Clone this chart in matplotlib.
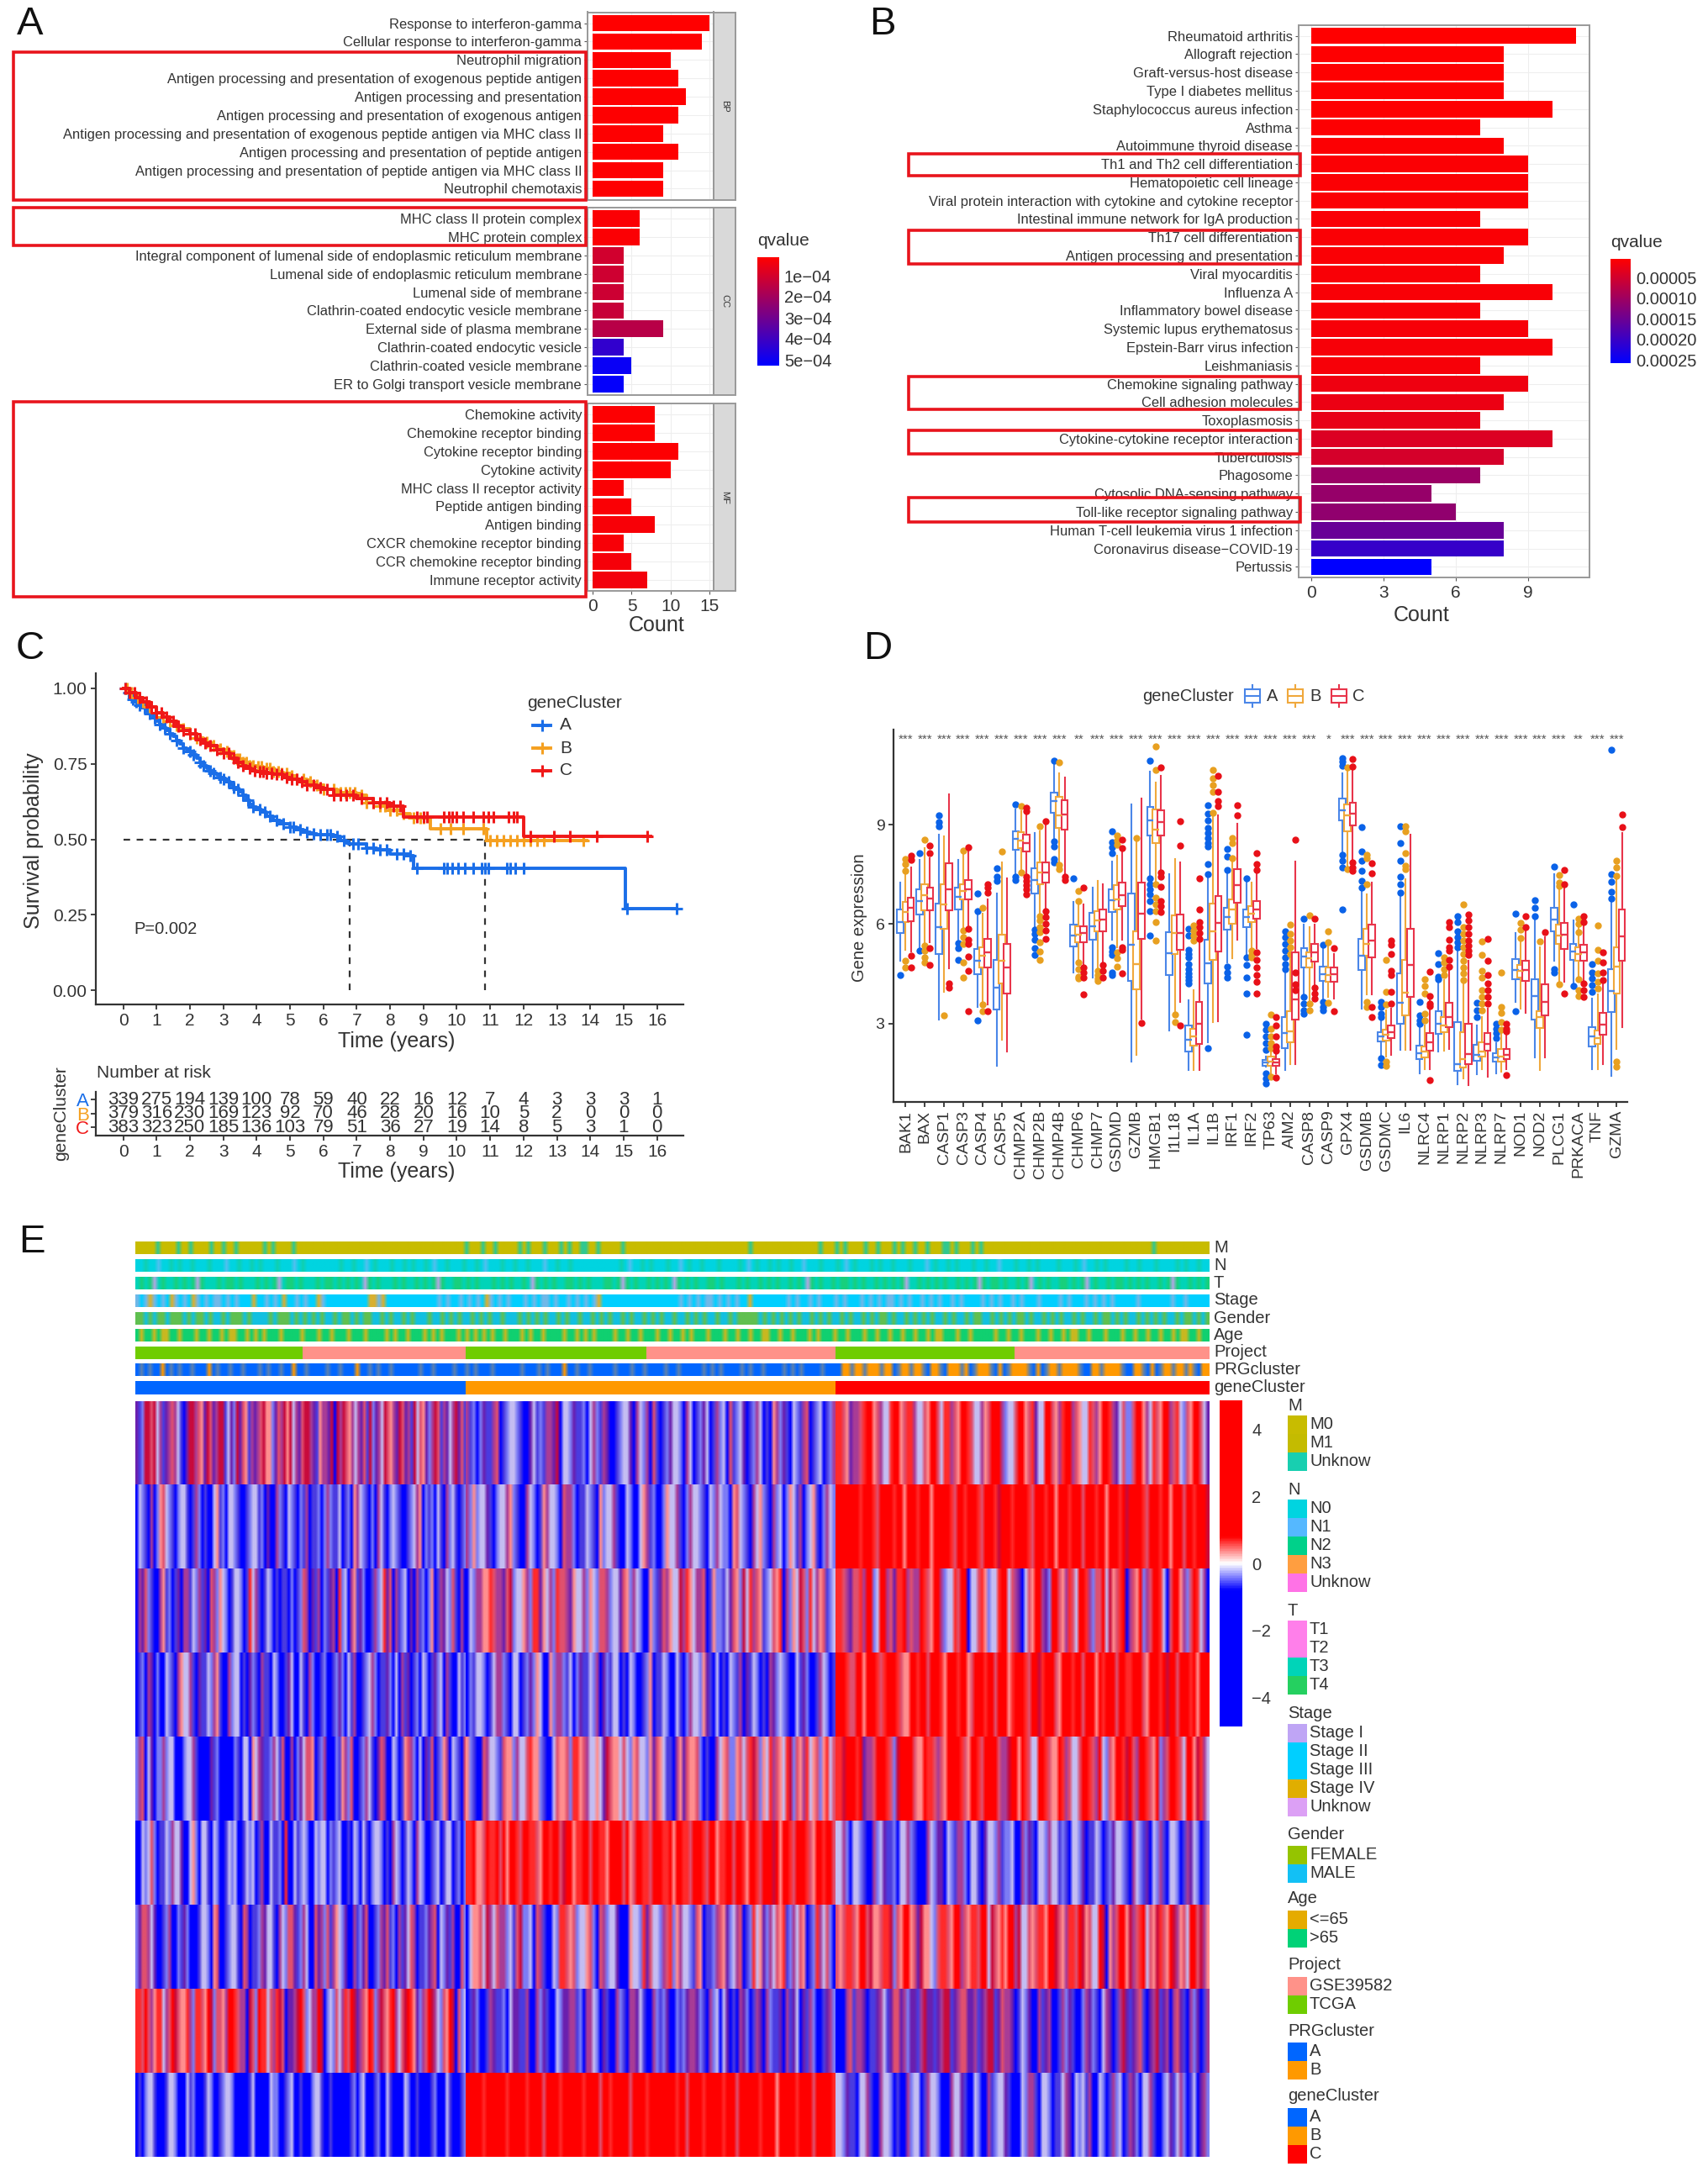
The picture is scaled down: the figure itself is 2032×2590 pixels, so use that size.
import matplotlib
matplotlib.use("Agg")
import matplotlib.pyplot as plt
import numpy as np
from matplotlib.colors import LinearSegmentedColormap, ListedColormap, Normalize
from matplotlib.cm import ScalarMappable
from matplotlib.patches import Rectangle

plt.rcParams['font.family'] = ['Liberation Sans', 'DejaVu Sans']

W, H = 2032, 2590
fig = plt.figure(figsize=(W / 100, H / 100), dpi=100, facecolor='white')

TXT = '#333333'
GREY = '#4d4d4d'
BOXRED = '#e8141c'

# ---- panel A data
a_terms = [
    ["Response to interferon-gamma", "Cellular response to interferon-gamma", "Neutrophil migration",
     "Antigen processing and presentation of exogenous peptide antigen", "Antigen processing and presentation",
     "Antigen processing and presentation of exogenous antigen",
     "Antigen processing and presentation of exogenous peptide antigen via MHC class II",
     "Antigen processing and presentation of peptide antigen",
     "Antigen processing and presentation of peptide antigen via MHC class II", "Neutrophil chemotaxis"],
    ["MHC class II protein complex", "MHC protein complex",
     "Integral component of lumenal side of endoplasmic reticulum membrane",
     "Lumenal side of endoplasmic reticulum membrane", "Lumenal side of membrane",
     "Clathrin-coated endocytic vesicle membrane", "External side of plasma membrane",
     "Clathrin-coated endocytic vesicle", "Clathrin-coated vesicle membrane", "ER to Golgi transport vesicle membrane"],
    ["Chemokine activity", "Chemokine receptor binding", "Cytokine receptor binding", "Cytokine activity",
     "MHC class II receptor activity", "Peptide antigen binding", "Antigen binding",
     "CXCR chemokine receptor binding", "CCR chemokine receptor binding", "Immune receptor activity"],
]
a_counts = [[15, 14, 10, 11, 12, 11, 9, 11, 9, 9],
            [6, 6, 4, 4, 4, 4, 9, 4, 5, 4],
            [8, 8, 11, 10, 4, 5, 8, 4, 5, 7]]
a_q = [[0.02e-4, 0.02e-4, 0.03e-4, 0.03e-4, 0.03e-4, 0.03e-4, 0.03e-4, 0.03e-4, 0.03e-4, 0.04e-4],
       [0.1e-4, 0.1e-4, 0.95e-4, 1.0e-4, 1.05e-4, 1.15e-4, 1.45e-4, 4.2e-4, 5.0e-4, 5.1e-4],
       [0.05e-4, 0.05e-4, 0.05e-4, 0.06e-4, 0.1e-4, 0.12e-4, 0.15e-4, 0.15e-4, 0.2e-4, 0.25e-4]]
a_facets = ["BP", "CC", "MF"]

# ---- panel B data
b_terms = ["Rheumatoid arthritis", "Allograft rejection", "Graft-versus-host disease", "Type I diabetes mellitus",
           "Staphylococcus aureus infection", "Asthma", "Autoimmune thyroid disease", "Th1 and Th2 cell differentiation",
           "Hematopoietic cell lineage", "Viral protein interaction with cytokine and cytokine receptor",
           "Intestinal immune network for IgA production", "Th17 cell differentiation",
           "Antigen processing and presentation", "Viral myocarditis", "Influenza A", "Inflammatory bowel disease",
           "Systemic lupus erythematosus", "Epstein-Barr virus infection", "Leishmaniasis",
           "Chemokine signaling pathway", "Cell adhesion molecules", "Toxoplasmosis",
           "Cytokine-cytokine receptor interaction", "Tuberculosis", "Phagosome", "Cytosolic DNA-sensing pathway",
           "Toll-like receptor signaling pathway", "Human T-cell leukemia virus 1 infection",
           "Coronavirus disease\u2212COVID-19", "Pertussis"]
b_counts = [11, 8, 8, 8, 10, 7, 8, 9, 9, 9, 7, 9, 8, 7, 10, 7, 9, 10, 7, 9, 8, 7, 10, 8, 7, 5, 6, 8, 8, 5]
b_q = [0.01e-5, 0.1e-5, 0.1e-5, 0.1e-5, 0.1e-5, 0.2e-5, 0.3e-5, 0.4e-5, 0.4e-5, 0.4e-5, 0.5e-5, 0.5e-5, 0.5e-5,
       0.6e-5, 0.6e-5, 0.7e-5, 0.8e-5, 0.8e-5, 0.8e-5, 1.6e-5, 1.9e-5, 2.3e-5, 3.5e-5, 4.2e-5, 10e-5, 10.5e-5,
       11e-5, 15e-5, 20e-5, 25.4e-5]

# ---- panel C data
time_a = [0, .1, .2, .3, .4, .5, .6, .7, .8, .9, 1, 1.1, 1.2, 1.3, 1.4, 1.5, 1.6, 1.7, 1.8, 1.9, 2, 2.1, 2.2, 2.3, 2.4, 2.5, 2.6, 2.7, 2.8, 2.9, 3,
          3.1, 3.2, 3.3, 3.4, 3.5, 3.6, 3.7, 3.8, 3.9, 4, 4.15, 4.3, 4.5, 4.7, 5, 5.2, 5.4, 5.6, 5.8, 6.3, 6.5, 6.7, 6.8, 7.3, 7.6, 8, 8.6, 8.7, 15.05, 16.6]
surv_a = [1, .985, .972, .963, .955, .945, .935, .925, .915, .903, .89, .88, .87, .86, .85, .84, .828, .815, .803, .797, .79, .78, .768, .755, .745, .735, .728, .72, .712, .706, .70,
          .69, .68, .672, .665, .657, .645, .63, .617, .607, .60, .59, .578, .562, .553, .54, .532, .524, .517, .515, .51, .497, .487, .485, .47, .465, .45, .445, .405, .27, .27]
time_b = [0, .2, .4, .6, .8, 1, 1.2, 1.4, 1.6, 1.8, 2, 2.2, 2.4, 2.6, 2.8, 3, 3.2, 3.4, 3.6, 3.8, 4, 4.2, 4.5, 4.7, 5, 5.2, 5.5, 5.7, 6, 6.4, 7, 7.3, 7.7, 8, 8.4, 8.6, 9.2, 10.9, 13.9]
surv_b = [1, .985, .97, .955, .94, .92, .905, .89, .878, .865, .85, .835, .822, .81, .8, .79, .778, .765, .755, .745, .74, .735, .725, .72, .71, .70, .69, .68, .665, .655, .645, .62, .61, .595, .585, .57, .535, .495, .495]
time_c = [0, .2, .4, .6, .8, 1, 1.2, 1.4, 1.6, 1.8, 2, 2.2, 2.4, 2.6, 2.8, 3, 3.2, 3.4, 3.6, 3.7, 3.85, 4, 4.3, 4.5, 4.8, 5, 5.3, 5.5, 5.8, 6, 6.3, 7, 7.5, 8, 8.4, 12, 15.8]
surv_c = [1, .985, .97, .955, .94, .92, .905, .89, .875, .86, .85, .83, .82, .81, .797, .785, .77, .755, .745, .735, .728, .725, .72, .715, .705, .70, .69, .68, .672, .665, .645, .635, .62, .61, .575, .51, .51]
cens_a = [.05, .15, .3, .4, .5, .65, .8, .95, 1.1, 1.25, 1.4, 1.6, 1.8, 2, 2.1, 2.3, 2.4, 2.6, 2.7, 2.9, 3, 3.15, 3.3, 3.45, 3.6, 3.75, 3.9, 4.1, 4.25, 4.4, 4.6, 4.8, 5, 5.1, 5.3, 5.5, 5.7, 5.9, 6.1, 6.2, 6.4, 6.6, 6.9, 7.05, 7.3, 7.5, 7.7, 7.9, 8.2, 8.4, 8.6, 8.8, 9.6, 9.7, 9.85, 10.05, 10.25, 10.5, 10.75, 10.85, 10.95, 11.5, 11.6, 11.75, 12, 15.1, 16.6]
cens_b = [.1, .25, .45, .6, .8, 1, 1.2, 1.4, 1.6, 1.8, 2, 2.2, 2.5, 2.7, 2.9, 3.1, 3.3, 3.4, 3.5, 3.6, 3.7, 3.8, 3.9, 4.05, 4.15, 4.3, 4.4, 4.5, 4.65, 4.75, 4.9, 5.05, 5.2, 5.4, 5.6, 5.8, 6, 6.3, 6.5, 6.65, 6.8, 6.95, 7.15, 7.3, 7.5, 7.7, 7.85, 8, 8.2, 8.4, 8.7, 8.9, 9, 9.5, 9.8, 10.2, 10.8, 11, 11.2, 11.4, 11.6, 11.8, 12, 12.2, 12.4, 12.6, 13.8]
cens_c = [.05, .2, .35, .5, .7, .85, 1, 1.15, 1.3, 1.5, 1.65, 1.8, 2, 2.15, 2.3, 2.45, 2.6, 2.8, 3, 3.15, 3.3, 3.45, 3.6, 3.8, 3.95, 4.1, 4.2, 4.3, 4.45, 4.6, 4.75, 4.9, 5.05, 5.2, 5.35, 5.5, 5.7, 5.9, 6.1, 6.3, 6.5, 6.7, 6.9, 7.15, 7.5, 7.7, 7.9, 8.1, 8.3, 8.8, 9, 9.1, 9.6, 9.75, 9.85, 10, 10.2, 10.5, 10.8, 10.95, 11.1, 11.55, 11.7, 11.8, 12.2, 12.9, 13.4, 14.2, 15.7]
risk_times = list(range(17))
risk_a = [339, 275, 194, 139, 100, 78, 59, 40, 22, 16, 12, 7, 4, 3, 3, 3, 1]
risk_b = [379, 316, 230, 169, 123, 92, 70, 46, 28, 20, 16, 10, 5, 2, 0, 0, 0]
risk_c = [383, 323, 250, 185, 136, 103, 79, 51, 36, 27, 19, 14, 8, 5, 3, 1, 0]

# ---- panel D data
genes = ["BAK1", "BAX", "CASP1", "CASP3", "CASP4", "CASP5", "CHMP2A", "CHMP2B", "CHMP4B", "CHMP6", "CHMP7", "GSDMD",
         "GZMB", "HMGB1", "I1L18", "IL1A", "IL1B", "IRF1", "IRF2", "TP63", "AIM2", "CASP8", "CASP9", "GPX4", "GSDMB",
         "GSDMC", "IL6", "NLRC4", "NLRP1", "NLRP2", "NLRP3", "NLRP7", "NOD1", "NOD2", "PLCG1", "PRKACA", "TNF", "GZMA"]
stars = ["***"] * 9 + ["**"] + ["***"] * 12 + ["*"] + ["***"] * 12 + ["**"] + ["***"] * 2
# whisker low, q1, median, q3, whisker high
box_a = [(4.89, 5.72, 6.07, 6.43, 7.25), (5.27, 6.28, 6.7, 7.05, 7.93), (3.11, 5.1, 5.9, 6.62, 8.69), (5.48, 6.43, 6.83, 7.09, 7.93),
         (3.49, 4.48, 4.89, 5.24, 6.37), (1.71, 3.43, 4.08, 4.93, 6.92), (7.51, 8.25, 8.57, 8.8, 9.45), (5.9, 6.93, 7.32, 7.68, 8.74),
         (8.44, 9.37, 9.71, 9.96, 10.85), (4.55, 5.33, 5.65, 5.99, 6.66), (4.38, 5.52, 5.94, 6.34, 7.1), (5.52, 6.37, 6.71, 7.04, 7.89),
         (1.84, 4.28, 5.38, 6.92, 9.62), (7.46, 8.68, 9.13, 9.54, 10.6), (2.79, 4.45, 5.12, 5.75, 7.51), (1.59, 2.16, 2.52, 2.94, 3.7),
         (2.43, 4.21, 4.82, 5.52, 7.45), (4.84, 5.83, 6.22, 6.5, 7.51), (5.1, 5.9, 6.2, 6.45, 7.34), (1.7, 1.72, 1.82, 1.91, 2.0),
         (1.59, 2.25, 2.7, 3.18, 4.6), (3.91, 4.7, 5.01, 5.27, 5.99), (3.7, 4.29, 4.48, 4.72, 5.31), (8.17, 9.12, 9.44, 9.79, 10.55),
         (3.45, 4.62, 5.04, 5.56, 7.0), (2.05, 2.45, 2.6, 2.73, 3.1), (2.2, 2.98, 3.62, 4.5, 6.83), (1.5, 1.93, 2.11, 2.33, 2.95),
         (2.14, 2.69, 2.98, 3.36, 4.25), (1.16, 1.57, 1.76, 3.04, 5.2), (1.46, 1.88, 2.05, 2.35, 2.95), (1.5, 1.84, 1.97, 2.1, 2.4),
         (3.66, 4.34, 4.62, 4.95, 5.73), (1.97, 3.11, 3.83, 4.34, 6.11), (4.89, 5.78, 6.14, 6.5, 7.51), (4.21, 4.93, 5.17, 5.41, 6.11),
         (1.63, 2.31, 2.6, 2.9, 3.75), (1.42, 3.35, 3.98, 4.65, 6.66)]
box_b = [(5.22, 6.07, 6.37, 6.68, 7.76), (5.4, 6.41, 6.87, 7.2, 8.3), (3.95, 5.86, 6.58, 7.2, 8.65), (5.9, 6.75, 7.0, 7.2, 8.1),
         (3.66, 4.68, 5.05, 5.3, 6.32), (2.52, 4.2, 4.89, 5.69, 7.85), (7.64, 8.29, 8.52, 8.77, 9.4), (6.32, 7.21, 7.55, 7.85, 8.8),
         (7.85, 8.9, 9.29, 9.85, 10.55), (4.89, 5.46, 5.69, 5.94, 6.67), (4.63, 5.77, 6.11, 6.4, 7.3), (5.31, 6.45, 6.75, 7.17, 8.06),
         (2.05, 4.04, 4.8, 5.77, 8.52), (7.26, 8.44, 8.86, 9.45, 10.26), (3.36, 5.1, 5.73, 6.26, 7.97), (1.59, 2.33, 2.6, 2.85, 4.0),
         (3.03, 4.93, 5.78, 6.62, 9.3), (4.97, 6.0, 6.45, 6.75, 7.89), (5.27, 6.07, 6.32, 6.55, 7.25), (1.45, 1.72, 1.85, 2.0, 2.3),
         (1.76, 2.43, 2.77, 3.36, 5.0), (3.7, 4.68, 4.97, 5.14, 5.9), (3.79, 4.27, 4.46, 4.68, 5.4), (7.7, 8.8, 9.28, 9.6, 10.64),
         (3.87, 5.05, 5.39, 5.86, 6.9), (2.0, 2.48, 2.67, 2.8, 3.4), (2.2, 3.24, 3.94, 4.93, 7.35), (1.63, 1.97, 2.14, 2.3, 2.94),
         (2.18, 2.73, 2.94, 3.2, 4.3), (1.33, 1.67, 1.93, 2.73, 4.2), (1.63, 2.01, 2.14, 2.43, 3.2), (1.54, 1.84, 2.01, 2.22, 2.72),
         (3.45, 4.38, 4.6, 4.77, 5.6), (1.59, 2.87, 3.2, 3.36, 5.3), (4.21, 5.39, 5.65, 5.99, 7.1), (4.38, 4.89, 5.1, 5.3, 5.98),
         (1.63, 2.39, 2.56, 2.78, 3.88), (2.22, 3.91, 4.72, 5.3, 7.35)]
box_c = [(5.18, 6.09, 6.48, 6.8, 7.7), (5.44, 6.41, 6.76, 7.09, 8.0), (4.67, 6.41, 7.04, 7.83, 9.92), (5.95, 6.75, 7.04, 7.34, 8.18),
         (3.58, 4.7, 5.14, 5.55, 6.75), (2.14, 3.91, 4.7, 5.39, 7.38), (7.51, 8.2, 8.44, 8.69, 9.3), (6.45, 7.25, 7.55, 7.85, 9.0),
         (7.5, 8.86, 9.31, 9.75, 10.43), (4.72, 5.44, 5.72, 5.94, 6.58), (4.84, 5.77, 6.14, 6.45, 7.2), (5.52, 6.54, 6.87, 7.24, 8.19),
         (3.15, 5.56, 6.32, 7.25, 9.8), (7.64, 8.68, 9.09, 9.44, 10.47), (3.66, 5.22, 5.73, 6.28, 7.85), (1.59, 2.39, 2.98, 3.66, 5.5),
         (3.07, 5.18, 6.03, 6.85, 9.29), (5.52, 6.65, 7.17, 7.66, 9.03), (5.27, 6.17, 6.43, 6.7, 7.5), (1.5, 1.72, 1.82, 1.93, 2.1),
         (1.76, 3.11, 3.72, 5.14, 7.89), (4.12, 4.87, 5.14, 5.39, 5.99), (3.74, 4.27, 4.48, 4.68, 5.1), (7.93, 8.99, 9.33, 9.66, 10.7),
         (3.87, 5.0, 5.5, 5.99, 7.25), (2.05, 2.56, 2.73, 2.94, 3.45), (2.2, 3.8, 4.76, 5.86, 8.7), (1.63, 2.18, 2.43, 2.71, 3.7),
         (2.22, 2.9, 3.19, 3.62, 4.68), (1.15, 1.77, 2.08, 3.0, 4.9), (1.38, 2.18, 2.39, 2.71, 3.45), (1.63, 1.93, 2.05, 2.22, 2.68),
         (3.32, 4.28, 4.61, 4.9, 5.82), (1.97, 3.24, 3.66, 4.19, 5.6), (4.25, 5.24, 5.67, 6.03, 7.13), (4.25, 4.9, 5.14, 5.38, 6.0),
         (1.76, 2.65, 2.96, 3.32, 4.25), (2.9, 4.89, 5.62, 6.45, 8.76)]
out_a = [[4.46], [8.15, 5.2], [9.29, 9.07, 8.95], [5.43, 5.27, 4.93], [6.92, 6.4, 3.1], [7.68, 7.42, 7.3], [9.6, 7.42, 7.34],
         [5.82, 5.7, 5.52, 5.27, 5.06], [10.93, 8.5, 8.35, 7.97, 7.85], [7.38], [], [8.8, 8.48, 8.31, 8.14, 5.31, 5.18, 5.06, 4.55, 4.46],
         [], [10.94, 7.38, 7.2, 7.05, 6.9, 6.7, 6.4, 5.65], [], [5.86, 5.65, 5.22, 5.1, 5.0, 4.8, 4.63, 4.5, 4.4, 4.3, 4.2],
         [9.58, 9.33, 9.12, 8.9, 8.75, 8.6, 8.45, 8.35, 7.8, 7.5, 2.25], [8.27, 8.03, 7.64, 4.72, 4.55, 4.38], [7.39, 5.0, 4.76, 4.38, 3.9, 2.66],
         [3.0, 2.8, 2.6, 2.4, 2.2, 1.5, 1.35, 1.2], [5.78, 5.6, 5.4, 5.2, 5.0, 4.8, 4.65], [6.16, 3.8, 3.6, 3.4, 3.3], [5.38, 3.65, 3.5, 3.4],
         [11.02, 10.9, 10.78, 8.1, 7.9, 7.7, 6.45], [8.93, 8.19, 7.9, 7.61, 7.3, 7.1], [3.66, 3.5, 3.3, 3.2, 1.95, 1.75],
         [8.95, 8.44, 7.9, 7.43, 7.2, 6.95], [3.66, 3.24, 3.1, 2.98], [5.11, 4.8, 4.42, 4.33], [6.24, 6.05, 5.78, 5.6, 5.45, 5.3],
         [3.62, 3.4, 3.18], [3.0, 2.85, 2.7, 2.57], [6.32, 3.36], [6.73, 6.48, 6.24], [7.74, 4.63, 4.55], [6.6, 4.14],
         [4.8, 4.55, 4.35, 4.15, 3.95], [11.25, 7.5, 7.27, 6.98, 6.76]]
out_b = [[7.97, 7.8, 7.6, 4.9, 4.7], [8.55, 5.35, 5.2, 5.0, 4.85], [3.24], [8.22, 5.8, 5.6, 5.4, 4.85, 4.38], [6.5, 3.58, 3.36], [8.19],
         [9.56, 7.55], [8.95, 6.25, 6.1, 5.9, 5.75, 5.44, 5.18, 4.93], [10.87, 7.78, 7.65], [7.0, 6.7, 4.85, 4.65, 4.4, 4.35],
         [4.6, 4.45, 4.35, 4.29], [8.67, 8.52, 8.4, 5.14, 4.97, 4.72], [8.6], [11.36, 10.64, 7.2, 6.8, 6.6, 6.4, 6.05, 5.5], [3.28, 3.03],
         [5.95, 5.8, 5.65, 5.5], [10.64, 10.4, 10.2, 10.0, 9.37], [8.6, 8.45, 8.0], [5.2, 5.06, 5.0], [3.28, 2.85, 2.6, 2.4, 2.25, 1.4],
         [5.98, 5.7, 5.5, 5.3, 5.1], [6.26, 3.6, 3.4], [5.78, 5.46, 3.63], [10.72, 7.66], [8.1, 8.0, 7.2, 3.66, 3.5],
         [4.93, 3.95, 3.57, 1.85, 1.72], [8.95, 8.8, 8.14, 7.75, 7.65], [4.34, 4.12, 3.91, 3.3, 3.1], [5.0, 4.85, 4.65, 4.45],
         [6.58, 5.9, 5.7, 5.5, 5.3, 5.1, 4.9, 4.7, 4.5, 4.3], [5.48, 5.06, 4.6, 4.38, 4.0, 3.8, 3.6, 3.4], [4.53, 3.49, 3.32, 3.03, 2.8],
         [6.03, 5.83, 5.58], [5.48], [7.47, 7.25, 7.15, 4.17], [6.15, 6.0, 5.75, 4.34, 4.0, 3.83], [5.97, 5.22, 4.89, 4.5, 4.25, 4.05],
         [7.92, 7.7, 7.45, 1.85, 1.7]]
out_c = [[8.06, 7.93, 5.04, 4.68], [8.36, 8.14, 5.27, 4.76], [4.21, 4.08], [8.31, 5.85, 5.52, 5.4, 5.01, 4.59, 3.36], [7.2, 7.1, 6.95, 3.36], [],
         [9.5, 9.41, 7.42, 7.3, 7.17, 7.04, 6.9], [9.1, 6.4, 6.2, 6.0, 5.8, 5.56], [7.42, 7.34], [7.09, 4.68, 4.55, 4.38, 3.87], [4.76, 4.59, 4.38],
         [8.54, 8.29, 5.31, 5.22, 4.5], [3.02], [10.72, 7.55, 7.43, 7.13, 6.7, 6.54, 6.37], [9.1, 8.37, 2.94], [7.38, 6.43, 6.07, 5.9, 5.73, 5.56],
         [10.47, 10.0, 9.71, 9.56], [9.58, 9.27], [8.14, 7.8, 7.64, 5.14, 4.93, 4.7, 4.45, 4.25, 3.9], [3.2, 2.94, 2.6, 2.3, 2.18, 1.37],
         [8.54, 4.55, 4.17, 4.0], [6.17, 4.08, 3.9, 3.75], [5.27, 3.36], [10.98, 10.76, 7.85, 7.7, 7.6], [7.83, 7.53, 3.49, 3.2],
         [5.5, 5.38, 5.1, 4.59, 4.46, 3.95, 3.6], [], [4.57, 3.83, 3.6, 3.53, 1.3], [6.07, 5.9, 5.52, 5.3, 5.2, 4.93, 4.72],
         [6.28, 6.1, 5.9, 5.7, 5.5, 5.35, 5.2, 5.06], [5.56, 4.89, 4.45, 4.2, 4.0, 3.8, 3.6], [3.0, 2.85, 2.75, 1.43], [6.24, 5.92], [5.75],
         [7.64, 7.2, 3.91], [6.24, 6.07, 4.2, 4.0, 3.79], [5.14, 4.83, 4.55, 4.3], [9.3, 8.92]]

# ---- panel E data: one string of stripes per heatmap row and cluster
heat_colors = {'b': '#0000ff', 'i': '#4a3be0', 'l': '#7c7cf5', 'w': '#c4bdf2', 'p': '#6a1fae', 'm': '#a83c96',
               'd': '#c80a3c', 's': '#e0506e', 'o': '#ff8e8e', 'r': '#ff2a2a', 'R': '#ff0000'}
heat_a = ["pilddsdwmipmsmwibpddmsopdspmddiwpldpsoimpmsdoolpsmdodwmpsddmpiommpdbdmdsomwmpsidlpmwdsompdspmidwsoplmdsimpwmdpsi",
          "bwlibmbloswliblwwibimlbibbwoilbwwlibbilwwilbpbbmlibwliblimbiilblmliiwbilbomwliblbmwiblwlibbilwmoblilbwibmlwibil",
          "bmpslibbmoilbipbmmiwlmipbsmlowlbiwwlbirwmibiwlbibiiblbilsmbpimblipmbrlwbmoiplbbimlwrpsbmilwbpbmilblobimpwlsibmb",
          "bilbmpblbbwlibmowwmibpiiwlmoibbmlwwbibplibmiibwlbbipwbbwibmlbbilbbilplbwimbbilwmlbiiplbwbmipbilbwlbiplwbmibbwil",
          "lmsbwpbllmlwwbbblwwmibbbbpilbbbbblibwwbowmpiilmwisbbmblpwssobilmbbbliomlsbbilmwibpsmbbwlbiosmlbwbpisbilombwlibs",
          "bbwlwslbiiwlmwwpbbwolbwwibwlbbiwlwbbiwlwbimbbwiilbrbbwilwlbbwlwwblilwbbibwlbwiblwwlbibmwlbiwlbmwlbbilwbiwwbilbl",
          "lpssmwpbbilmbbliplbbbiwwlbosbbilwwibsmbiilmpwwibmwlsspilmwbbspmlsimowlpbbmilpsbbilmpsilbmipwsmbiilpmsbwlpimbbsl",
          "rrsRsmorrwmsRdsoormlrrsoRdlssomRRrsmmbdslRrrwsmrdsbppmdRslwmmRdblwlswmrsRdpmsoRrlmdsorRmwsdRroplmsRdmwlsoRdbslw",
          "biblwwibbbiwwlbbbwilbbbiwlbbilwwlbbbbbiwbbbbbwllbbilwbbibbblwwibbibbbbbbilblwbbbilbbwibbbbwlbbibbbbilbbbwibbbil"]
heat_b = ["milblpiimsbilwwlibbpwilimmpdbwwlpiilbwmlimpbbilwwpbmwlmbsibilpwwlbmwbilpwbimlwbsilwpbilmwbibomlpibwlimsbilwbilm",
          "mlolwwpiblwwmolibbmwlbiomwwlbsmmlbiiwlibolwwmibbwlbbwomilbblowwmiblmwwlibwlmwllboswlibmwolibmlwblowimblwoiblmwl",
          "bwlmmoorsmmpsdlwwomlrrpowmlrssmpowwmlowlssmlwwpsolmwlbbolipsmowwdmrowmmsbiolliwpsoldwrmsoilwsorbmlowdslrwmosilw",
          "bliwwlbiwmmlibwwbilplowbbolmmliwblpiiwlmbpliwwbibwlbbilobiiwlbbwiblmwwlopibwbibwlimbpiwlbibmplwlibbwiplbbimwlbi",
          "olibbsmwwlisoolmwwsroolibbwsooslrrosmwwowpdsoowswloswwlopsowiibmopsooslbibbmwoslloswsrdslowrmsowrdlsomrwoslorws",
          "rrRoosRrrRsRoRRrsRRrrsoRRrRRsdRRorrRRsRRrroRRRRsRosRRrrsRRRrrRoRRrrsRRRrsRRorrRRsRRroRRrsRRRdRoRRrsRRRrsoRRrRRs",
          "bwooswdmwsmmlwisdllwbsmibbwlrrsoslwwoslbsmlwwpbbbowwlrpswwlmsrlomwwlisobiilmsoplwmsbilrwoplmwsorilmwsobilrmwslb",
          "biplbbimpiilbwppiimbbmlpibbwlppmmilbmmwlbpibbmlibmmpwibbmlilpbblilpmmplibmlwbwpbibmplbimpbmliipbmipwbpimlbbipml",
          "RRRRRrRRRRRRrRRRRRrRRRRsRRRRrRRRRRRrRRRRsRRrRRRRRsRRRRrRRRRRRRRrRRsRRRRrRRRRRrRRRsRRRRRRrRRRRoRRRRRrRRRRsRRRRRr"]
heat_c = ["rrsopmmsrRRosmwwrRRosrrmwwsoRRswrrmsoRRrswwmosRRRmlwwsRRosrpwwRRsomrRRmsowwrsmoRRrmpwsllsRRomwrsoRRmsrwlsoRRswp",
          "RRRRRRRrRRRrsRRRRrRRoRRRrRRRoRRRRRrsRRrRRRrsRRRrdRRRrRRRRrsRRRrRRoRRRrRRRsRRRrRRoRRRrRdRRRRrsRRRrRRoRRRsRRrRRRd",
          "rrsmpssrmRRlwRRmsprrRmsmmRrsoRRmlwwrsRRbwwsrolwwrRRwsmpbwsoRRmplRRsomrswRRrmlssRwdosrRbmsoRlmsRRrwbsRRomlsRrwmb",
          "RRRrssRRoRRRrsrRRRrsooRRrRRsRRRroRRRrRRosRRRrRRsRRRorRRRrsRRdrRRRsoRRRrRRsRRRoRrRRRsRRrrRRRsoRRRrRdRRsRRRrRoRRR",
          "rrdRRRrRpmmsRRRrsldRRRRsooRrrsmsoRRRRrsoRRrsRRRRsmmdRRoRrswwRRrsooRrmswwsRRrsmRwlsoRRrdRsmRRrsoRlmsRRrswRRodrmw",
          "wwmlbwwlibbmlwpiilbwwmlibbbmwlppbwlimmlbwwibpwwlmillwbbmlpibwwlmwwilibwwlpbiiwlbilpwwlibmwlipbwlmibwwlbimpwlbil",
          "sosrrsoRRsdoosrrdlsoRRospdoowlsrrsoRRmsorrsRRwdsoroRRmdwwsosrroRRdsomrrsRdoswwRdbomsRRodmsrRwsodrsoRdmoswRRsdmo",
          "bbbmsimmpbiipmwipsspmlppimdppipmddipmssppmipmddipsmmpbiwlpbbmipmbbimlpibblmplibwmpbimdpipmsibpmdipmbmspibmlpbim",
          "wwlpiibwwmibbmwwlbibbmlwwbimwwlbbbmwwpibbwlbbmilwwpibbbwlmmibwwlbiiwmpbwlwimbbwlbimlwbimplbwwmibblwpiwmlbiwbpml"]
cluster_sizes = [339, 379, 383]
project_runs = [("TCGA", 172), ("GSE39582", 167), ("TCGA", 185), ("GSE39582", 194), ("TCGA", 183), ("GSE39582", 200)]

track_m = "aaaaauaaaauaauaaaauaauaauaaaaaauauaaaauaaaaaaaaaaaaaaaaaaaaaaaaaaaaaaaaaaaaaaaaauaaauaauaaaaauauaaauaaauauaauuaauaaaaauaaaaaaaaaaaaaaaaaaaaaaaaaaaaaauaaaaaaaaaaaaaaaauaaauauaaaauaauaaauauaauaauaaauuauaaauauaaaaaaaaaaaaaaaaaaaaaaaaaaaaaaaaaaaaaaaaauaaaaaaaaaaaaa"
track_n = "ccgcchccgcgccgcccgccchccgccgcgcccgccchcgccccccccgccgcchcgcccgccgcgccgchccgcccgccgchcccgccgccgccchccgccgcccccccccccgchccgcgcccgcchcgccgcccgccccgchcgccgcgccgcchcccgcccgchcgcccgcgccgcccgccchcgccgcgcccgccgcchcccgccgcgccccgcccgchccgcgccccgccgcccgccccgcgccgcc"
track_t = "tgtgktgttgtgtgkgtttgtggtgtttgtgtgktggtgtttgtggtgtgtgtkgtgtttgtgttgtgtgkgttggtgtgtttgtgtgttgtkgtgtgttggtgtgtttggtgkgtgttgtgtgtkgtgtgttggtgtttgtgttgtgtgttgtgtkgtgttgtggtgtgttgtgtgtgkttgtgtgtgttgtgtgkgtggtgttgtgktgtgttggtgtgktgttgtggtgtgtgttgtgkgttgtgtg"
track_s = "vcvyvcvcyvcvcyvcvcvvcvcvcccyccvcvcyccvcvccyvccccccccccyyvyccccccccccccvcvccvcvcvcyvcvcvcccvcvcvvcvccvcvcvcvyccccccccccccccccccvcvcvcvvcvcvcvccyccccccccvcvccvcvcccvcvcccvcvcvcvvcvcvccvcvcvccvcvccccvcvcvccvcvcccvccccvcvcccvcvcvcvcccccvcccccccvccvccccc"
track_g = "ffmfmffmfffmfmffmfmmfmfffmfmmmmfmfffmfmfmfmfmmfmffmfmffmmfmfmmfmfmmmfmmfmfmfmmfmfmfmmfmmmfmfmfmfmmfmfmmfmmfmfmfmmfmfmmfmfmfmmfmmfmfmfmmfmmfmfffffmfmfmfmfmfmmfmfmfmmfmfmmfmfmffmfmmfmfmfmfmmfmfmmfmffmmfmfmfmffmfmmfmfmfmmfmfmmfmffmfmfmmfmfmfmfmmfmffmfmf"
track_age = "nonnonoonnonnnonnonnonoonnonononnnonnnnonnnonnonnnonnnonnnnononnonnnonononnnonononononnonnnononnonnnnonnonononnnnonnonnonnnonnonnononnnonnnonnonnonnoonnonnonnnononnnonnonnnonnonnonnonnonnonoonnnonnonnnnnonnonnonnnonnonnonoonnonnnonnnonnonnonnonnonoonnonn"
track_prg = "agagaabagagaagaaabagaagaagaaagagaagaabaagaaaagaagaaabaagagaagaaaaaagaagaaaagaagagaaagaaaaaagaaagagaaabaagaagaaaaagaaagaagaaaagaagaaaaagagagaaaagagaagaaaagagagaaaagaaaabbgbbgbbbgbbagbbgbbgabbgabbbgbagbbbgabagbbbbgabagbbgbbbbgaabbgbbbbgaabbgabagbbgbbgbgabb"
track_m_colors = {'a': '#c8bc00', 'u': '#30c890'}
track_n_colors = {'c': '#00d4e0', 'h': '#50c0f0', 'g': '#10d0b0'}
track_t_colors = {'t': '#00d4b8', 'g': '#18d07c', 'k': '#b0a8e0'}
track_s_colors = {'c': '#00cfff', 'v': '#70b8e8', 'y': '#d8b030'}
track_g_colors = {'f': '#60c050', 'm': '#12c0e0'}
track_age_colors = {'o': '#c8b820', 'n': '#10d070'}
track_prg_colors = {'a': '#0066ff', 'g': '#5a80b0', 'b': '#ff9900'}

legend_groups = [
    ("M", ["M0", "M1", "Unknow"], ['#c8bc00', '#c4bb00', '#18cfb0'], 1672, 1683.5),
    ("N", ["N0", "N1", "N2", "N3", "Unknow"], ['#00d4e0', '#55b8ff', '#00d18a', '#ff9e40', '#ff72e6'], 1772, 1783.5),
    ("T", ["T1", "T2", "T3", "T4"], ['#ff7fea', '#ff7fea', '#00d4b8', '#25d060'], 1917, 1928),
    ("Stage", ["Stage I", "Stage II", "Stage III", "Stage IV", "Unknow"], ['#bfa5f5', '#00cfff', '#00cfff', '#e0ae00', '#dca0f5'], 2038, 2050.5),
    ("Gender", ["FEMALE", "MALE"], ['#95c400', '#12c0f5'], 2183, 2195.5),
    ("Age", ["<=65", ">65"], ['#e5ab00', '#00d277'], 2259, 2272.5),
    ("Project", ["GSE39582", "TCGA"], ['#ff9289', '#6fcd00'], 2337.5, 2352),
    ("PRGcluster", ["A", "B"], ['#0066ff', '#ff9900'], 2416.5, 2430),
    ("geneCluster", ["A", "B", "C"], ['#0066ff', '#ff9900', '#ff0000'], 2493.5, 2507.5),
]
track_names = ["M", "N", "T", "Stage", "Gender", "Age", "Project", "PRGcluster", "geneCluster"]


def axpx(x0, y0, x1, y1, **kw):
    return fig.add_axes([x0 / W, 1 - y1 / H, (x1 - x0) / W, (y1 - y0) / H], **kw)


# overlay in pixel coordinates, for panel letters, red frames and legends
ov = fig.add_axes([0, 0, 1, 1], zorder=20)
ov.set_xlim(0, W)
ov.set_ylim(H, 0)
ov.axis('off')
ov.patch.set_alpha(0)

red_blue = LinearSegmentedColormap.from_list('qv', ['#ff0000', '#0000ff'])


def qvalue_bar(x0, y0, x1, y1, vmin, vmax, ticks, labels, tx):
    cax = axpx(x0, y0, x1, y1)
    sm = ScalarMappable(Normalize(vmin, vmax), red_blue)
    cb = fig.colorbar(sm, cax=cax, ticks=ticks)
    cb.outline.set_visible(False)
    cax.invert_yaxis()
    cax.tick_params(length=0, labelright=False)
    for t, lab in zip(ticks, labels):
        y = y0 + (t - vmin) / (vmax - vmin) * (y1 - y0)
        ov.text(tx, y, lab, fontsize=14.5, color=TXT, va='center')
    ov.text(x0, y0 - 20, "qvalue", fontsize=15, color=TXT, va='center')
    return cb


def style_bar_ax(ax):
    ax.set_axisbelow(True)
    ax.grid(True, color='#eeeeee', lw=0.8)
    for s in ax.spines.values():
        s.set_color('#999999')
        s.set_linewidth(1.4)
    ax.tick_params(axis='y', length=3, color='#555555', labelsize=11.9, labelcolor=TXT, pad=2)


# ---- A
facet_y = [(14.5, 237.5), (247, 470), (480, 703)]
norm_a = Normalize(0.0, 5.2e-4)
for i, (y0, y1) in enumerate(facet_y):
    ax = axpx(699, y0, 849, y1)
    ypos = np.arange(10)
    ax.barh(ypos, a_counts[i], height=0.9, color=[red_blue(norm_a(q)) for q in a_q[i]])
    ax.set_xlim(-0.65, 15.5)
    ax.set_ylim(9.6, -0.6)
    ax.set_yticks(ypos)
    ax.set_yticklabels(a_terms[i])
    ax.set_xticks([0, 5, 10, 15])
    style_bar_ax(ax)
    if i == 2:
        ax.tick_params(axis='x', length=3, labelsize=15, labelcolor=TXT, color='#555555')
    else:
        ax.tick_params(axis='x', length=0, labelbottom=False)
    strip = axpx(849, y0, 875, y1, facecolor='#d9d9d9')
    strip.set_xticks([])
    strip.set_yticks([])
    for s in strip.spines.values():
        s.set_color('#999999')
        s.set_linewidth(1.4)
    strip.text(0.5, 0.5, a_facets[i], rotation=-90, ha='center', va='center', fontsize=8, color=TXT, transform=strip.transAxes)

ov.text(781, 744, "Count", fontsize=18, color=TXT, ha='center', va='center')
qvalue_bar(901, 306, 927, 435, 0.04e-4, 5.2e-4, [1e-4, 2e-4, 3e-4, 4e-4, 5e-4],
           ["1e\u221204", "2e\u221204", "3e\u221204", "4e\u221204", "5e\u221204"], 933)
for x0, y0, x1, y1 in [(15.5, 61.5, 697, 237.5), (15.5, 247, 697, 292), (15.5, 478, 697, 710)]:
    ov.add_patch(Rectangle((x0, y0), x1 - x0, y1 - y0, fill=False, ec=BOXRED, lw=2.6))

# ---- B
ax = axpx(1545, 30, 1891, 687)
norm_b = Normalize(0.0, 2.54e-4)
ypos = np.arange(len(b_terms))
ax.barh(ypos, b_counts, height=0.9, color=[red_blue(norm_b(q)) for q in b_q])
ax.set_xlim(-0.52, 11.55)
ax.set_ylim(29.58, -0.58)
ax.set_yticks(ypos)
ax.set_yticklabels(b_terms)
ax.set_xticks([0, 3, 6, 9])
style_bar_ax(ax)
ax.tick_params(axis='x', length=3, labelsize=15, labelcolor=TXT, color='#555555')
ov.text(1691, 732, "Count", fontsize=18, color=TXT, ha='center', va='center')
qvalue_bar(1916, 308, 1940, 432, 0.0, 2.54e-4, [0.5e-4, 1e-4, 1.5e-4, 2e-4, 2.5e-4],
           ["0.00005", "0.00010", "0.00015", "0.00020", "0.00025"], 1946)
for y0, y1 in [(183, 209), (274, 314), (448, 487), (512, 540), (592, 621)]:
    ov.add_patch(Rectangle((1081, y0), 466, y1 - y0, fill=False, ec=BOXRED, lw=2.6))

# ---- C
ax = axpx(114, 801, 813, 1195)
km_colors = ['#1a6ee8', '#f5a020', '#f01818']
median_t = [6.8, 10.85]
ax.plot([0, 10.85], [0.5, 0.5], color='#333333', ls=(0, (3.5, 3.5)), lw=1.6)
for t in median_t:
    ax.plot([t, t], [0, 0.5], color='#333333', ls=(0, (3.5, 3.5)), lw=1.6)
for tm, sv, cs, col in [(time_a, surv_a, cens_a, km_colors[0]), (time_b, surv_b, cens_b, km_colors[1]), (time_c, surv_c, cens_c, km_colors[2])]:
    ax.step(tm, sv, where='post', color=col, lw=2.8)
    idx = np.searchsorted(tm, cs, side='right') - 1
    ax.plot(cs, np.array(sv)[idx], '+', color=col, ms=10, mew=2.2)
ax.set_xlim(-0.82, 16.79)
ax.set_ylim(-0.047, 1.05)
ax.set_xticks(risk_times)
ax.set_yticks([0, 0.25, 0.5, 0.75, 1.0])
ax.set_yticklabels(["0.00", "0.25", "0.50", "0.75", "1.00"])
ax.tick_params(labelsize=15, labelcolor=TXT, color='#333333', length=4, width=1.3)
ax.spines[['top', 'right']].set_visible(False)
ax.spines[['left', 'bottom']].set_color('#333333')
ax.spines[['left', 'bottom']].set_linewidth(1.6)
ov.text(472, 1239, "Time (years)", fontsize=18, color=TXT, ha='center', va='center')
ov.text(40, 1000, "Survival probability", fontsize=18, color=TXT, rotation=90, ha='center', va='center')
ov.text(159, 1105.5, "P=0.002", fontsize=14.5, color=TXT, va='center')
ov.text(627, 836, "geneCluster", fontsize=15, color=TXT, va='center')
for name, col, y in zip("ABC", km_colors, [863, 890, 917]):
    ov.plot([634, 655], [y, y], color=col, lw=2.8)
    ov.plot([644.5], [y], '+', color=col, ms=10, mew=2.2)
    ov.text(666, y, name, fontsize=15, color=TXT, va='center')

ax = axpx(114, 1299, 813, 1350.6)
for row, vals in enumerate([risk_c, risk_b, risk_a]):
    for t, v in zip(risk_times, vals):
        ax.text(t, row, str(v), fontsize=16, color=TXT, ha='center', va='center')
ax.set_xlim(-0.82, 16.79)
ax.set_ylim(-0.55, 2.55)
ax.set_xticks(risk_times)
ax.set_yticks([0, 1, 2])
ax.set_yticklabels(["C", "B", "A"], fontsize=16)
for lab, col in zip(ax.get_yticklabels(), [km_colors[2], km_colors[1], km_colors[0]]):
    lab.set_color(col)
ax.tick_params(axis='x', labelsize=15, labelcolor=TXT, length=4, width=1.3, color='#333333')
ax.tick_params(axis='y', length=4, width=1.3, color='#333333', pad=2)
ax.spines[['top', 'right']].set_visible(False)
ax.spines[['left', 'bottom']].set_color('#333333')
ax.spines[['left', 'bottom']].set_linewidth(1.6)
ov.text(115, 1276, "Number at risk", fontsize=15, color=TXT, va='center')
ov.text(472, 1394, "Time (years)", fontsize=18, color=TXT, ha='center', va='center')
ov.text(73, 1325, "geneCluster", fontsize=15, color=TXT, rotation=90, ha='center', va='center')

# ---- D
ax = axpx(1063, 868, 1936, 1311)
line_colors = ['#4a86e8', '#f0a83c', '#e8344a']
dot_colors = ['#0a62e8', '#e8a020', '#e81018']
for boxes, outs, off, lc, dc in zip([box_a, box_b, box_c], [out_a, out_b, out_c], [-0.27, 0, 0.27], line_colors, dot_colors):
    stats = [dict(whislo=b[0], q1=b[1], med=b[2], q3=b[3], whishi=b[4], fliers=o) for b, o in zip(boxes, outs)]
    pos = np.arange(1, len(genes) + 1) + off
    ax.bxp(stats, positions=pos, widths=0.34, manage_ticks=False, patch_artist=True, showcaps=False,
           boxprops=dict(facecolor='white', edgecolor=lc, lw=1.5),
           whiskerprops=dict(color=lc, lw=1.5), medianprops=dict(color=lc, lw=1.7),
           flierprops=dict(marker='o', markerfacecolor=dc, markeredgecolor=dc, markersize=5))
for i, s in enumerate(stars):
    ax.text(i + 1, 11.56, s, ha='center', va='center', fontsize=11, color='#555555')
ax.set_xlim(0.37, 38.55)
ax.set_ylim(0.63, 11.87)
ax.set_xticks(np.arange(1, len(genes) + 1))
ax.set_xticklabels(genes, rotation=90, fontsize=14, color=TXT)
ax.set_yticks([3, 6, 9])
ax.tick_params(axis='y', labelsize=14, labelcolor=TXT, length=4, width=1.3, color='#333333')
ax.tick_params(axis='x', length=4, width=1.3, color='#333333', pad=3)
ax.spines[['top', 'right']].set_visible(False)
ax.spines[['left', 'bottom']].set_color('#333333')
ax.spines[['left', 'bottom']].set_linewidth(1.6)
ov.text(1023, 1092, "Gene expression", fontsize=14.5, color=TXT, rotation=90, ha='center', va='center')
ov.text(1359, 828, "geneCluster", fontsize=14.5, color=TXT, va='center')
for name, col, kx, tx in zip("ABC", line_colors, [1490, 1541, 1593], [1507, 1558, 1609]):
    ov.add_patch(Rectangle((kx - 9, 820), 18, 16, fc='white', ec=col, lw=1.5))
    ov.plot([kx - 9, kx + 9], [828, 828], color=col, lw=1.5)
    ov.plot([kx, kx], [815, 820], color=col, lw=1.5)
    ov.plot([kx, kx], [836, 841], color=col, lw=1.5)
    ov.text(tx, 828, name, fontsize=14.5, color=TXT, va='center')

# ---- E
def stripe_row(ax, codes, palette, x0, x1, row):
    keys = list(palette)
    cmap = ListedColormap([palette[k] for k in keys])
    vals = np.array([[keys.index(c) for c in codes]])
    ax.imshow(vals, cmap=cmap, vmin=0, vmax=len(keys) - 1, aspect='auto', extent=(x0, x1, row + 1, row),
              interpolation='bilinear', interpolation_stage='rgba')


total = sum(cluster_sizes)
ax = axpx(160.7, 1666.5, 1438.7, 2566)
edges = np.cumsum([0] + cluster_sizes)
for seg, strings in enumerate([heat_a, heat_b, heat_c]):
    for row, s in enumerate(strings):
        stripe_row(ax, s, heat_colors, edges[seg], edges[seg + 1], row)
ax.set_xlim(0, total)
ax.set_ylim(9, 0)
ax.axis('off')

track_strings = [(track_m, track_m_colors), (track_n, track_n_colors), (track_t, track_t_colors), (track_s, track_s_colors),
                 (track_g, track_g_colors), (track_age, track_age_colors)]
track_y = [1477, 1498, 1519, 1539.5, 1560.5, 1581, 1601.5, 1622, 1643]
for y0, (s, pal) in zip(track_y, track_strings):
    tax = axpx(160.7, y0, 1438.7, y0 + 15.5)
    stripe_row(tax, s, pal, 0, total, 0)
    tax.set_xlim(0, total)
    tax.set_ylim(1, 0)
    tax.axis('off')

tax = axpx(160.7, track_y[6], 1438.7, track_y[6] + 15.5)
start = 0
for name, n in project_runs:
    tax.barh(0.5, n, left=start, height=1, color='#6fcd00' if name == "TCGA" else '#ff9289')
    start += n
tax.set_xlim(0, total)
tax.set_ylim(1, 0)
tax.axis('off')

tax = axpx(160.7, track_y[7], 1438.7, track_y[7] + 15.5)
stripe_row(tax, track_prg, track_prg_colors, 0, total, 0)
tax.set_xlim(0, total)
tax.set_ylim(1, 0)
tax.axis('off')

tax = axpx(160.7, track_y[8], 1438.7, track_y[8] + 15.5)
tax.barh(0.5, cluster_sizes, left=edges[:-1], height=1, color=['#0066ff', '#ff9900', '#ff0000'])
tax.set_xlim(0, total)
tax.set_ylim(1, 0)
tax.axis('off')

for name, y0 in zip(track_names, track_y):
    ov.text(1444, y0 + 7.5, name, fontsize=14.5, color=TXT, va='center')

# heatmap colour key
vmax = 4.86
heat_ramp = LinearSegmentedColormap.from_list('heat', [
    ((-vmax + vmax) / (2 * vmax), '#0000ff'), ((-0.8 + vmax) / (2 * vmax), '#0000ff'), (0.5, '#ffffff'),
    ((0.8 + vmax) / (2 * vmax), '#ff0000'), (1.0, '#ff0000')])
cax = axpx(1451, 1666, 1478, 2054)
cb = fig.colorbar(ScalarMappable(Normalize(-vmax, vmax), heat_ramp), cax=cax, ticks=[-4, -2, 0, 2, 4])
cb.outline.set_visible(False)
cax.tick_params(length=0, labelsize=14.5, labelcolor=TXT, pad=8)
cax.set_yticklabels(["\u22124", "\u22122", "0", "2", "4"])

for title, labels, cols, ty, ky in legend_groups:
    ov.text(1532, ty, title, fontsize=14.5, color=TXT, va='center')
    for j, (lab, col) in enumerate(zip(labels, cols)):
        ov.add_patch(Rectangle((1532, ky + 22 * j), 22.5, 22, fc=col, ec='none'))
        ov.text(1558, ky + 22 * j + 11, lab, fontsize=14.5, color=TXT, va='center')

for letter, x, y in [("A", 36, 29), ("B", 1050, 29), ("C", 36, 772), ("D", 1044, 772), ("E", 38, 1478)]:
    ov.text(x, y, letter, fontsize=34, color='#111111', ha='center', va='center')

fig.savefig('out.png', dpi=100, facecolor='white')
